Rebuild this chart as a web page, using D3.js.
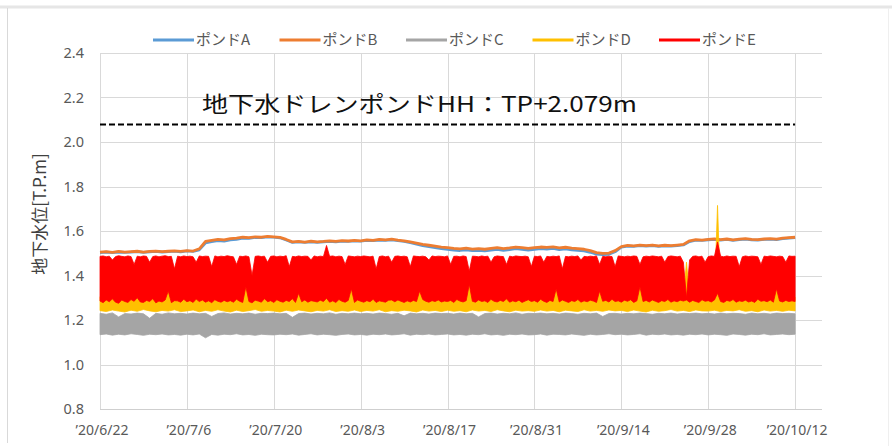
<!DOCTYPE html>
<html><head><meta charset="utf-8">
<script src="https://cdn.jsdelivr.net/npm/d3@7"></script>
<style>body{margin:0;background:#fff;overflow:hidden}</style>
</head><body><svg id="c" width="892" height="446"></svg>
<script>
// ---------- data ----------
const startDate = [2020, 5, 22];            // '20/6/22
const dailyStepHours = 24;                   // pond A, B, C, D(low): one reading per day
const halfDayStepHours = 12;                 // pond D(high), E: two readings per day
const seriesNames = ["ポンドA", "ポンドB", "ポンドC", "ポンドD", "ポンドE"];
const seriesColors = ["#5B9BD5", "#ED7D31", "#A5A5A5", "#FFC000", "#FF0000"];
const yTicks = [0.8, 1.0, 1.2, 1.4, 1.6, 1.8, 2.0, 2.2, 2.4];
const xTickDates = ["2020-06-22","2020-07-06","2020-07-20","2020-08-03","2020-08-17","2020-08-31","2020-09-14","2020-09-28","2020-10-12"];
const xTickLabels = ["’20/6/22","’20/7/6","’20/7/20","’20/8/3","’20/8/17","’20/8/31","’20/9/14","’20/9/28","’20/10/12"];
const hhLevel = 2.079;
const hhLabel = "地下水ドレンポンドHH：TP+2.079m";
const yTitle = "地下水位[T.P.m]";

const pondA = [
1.503,1.505,1.503,1.505,1.504,1.505,1.507,1.504,1.506,1.508,1.505,1.507,1.509,1.506,
1.51,1.508,1.515,1.546,1.552,1.556,1.554,1.56,1.562,1.567,1.567,1.571,1.57,1.573,
1.572,1.569,1.559,1.548,1.551,1.548,1.551,1.549,1.551,1.553,1.551,1.554,1.553,1.555,
1.554,1.557,1.556,1.559,1.558,1.56,1.556,1.553,1.547,1.541,1.534,1.529,1.525,1.52,
1.517,1.514,1.512,1.515,1.511,1.513,1.51,1.514,1.517,1.513,1.516,1.52,1.517,1.514,
1.517,1.52,1.518,1.521,1.516,1.519,1.515,1.513,1.51,1.504,1.496,1.493,1.495,1.506,
1.527,1.532,1.531,1.534,1.532,1.534,1.531,1.533,1.532,1.534,1.537,1.552,1.558,1.557,
1.56,1.562,1.559,1.562,1.558,1.561,1.563,1.56,1.559,1.562,1.563,1.561,1.565,1.568,
1.57];
const pondB = [
1.505,1.507,1.504,1.508,1.505,1.507,1.509,1.505,1.508,1.51,1.507,1.509,1.511,1.508,
1.512,1.51,1.52,1.553,1.558,1.562,1.56,1.566,1.568,1.572,1.57,1.574,1.572,1.576,
1.574,1.571,1.562,1.551,1.553,1.55,1.554,1.551,1.553,1.556,1.553,1.557,1.555,1.558,
1.556,1.56,1.558,1.562,1.56,1.563,1.559,1.556,1.551,1.546,1.54,1.536,1.532,1.528,
1.525,1.522,1.52,1.523,1.519,1.521,1.518,1.522,1.525,1.521,1.524,1.528,1.525,1.522,
1.525,1.528,1.526,1.529,1.524,1.527,1.523,1.521,1.518,1.512,1.503,1.499,1.501,1.512,
1.53,1.535,1.533,1.537,1.534,1.537,1.533,1.536,1.534,1.537,1.54,1.556,1.561,1.559,
1.562,1.565,1.561,1.564,1.56,1.563,1.566,1.562,1.561,1.564,1.566,1.563,1.568,1.57,
1.572];
const pondCHigh = [
1.23,1.226,1.232,1.214,1.229,1.227,1.231,1.228,1.208,1.23,1.226,1.232,1.228,1.23,
1.227,1.231,1.228,1.23,1.216,1.229,1.232,1.227,1.23,1.228,1.231,1.226,1.23,1.229,
1.231,1.228,1.23,1.212,1.229,1.231,1.227,1.23,1.228,1.232,1.226,1.23,1.228,1.231,
1.228,1.23,1.227,1.231,1.229,1.226,1.23,1.219,1.231,1.228,1.23,1.227,1.231,1.229,
1.23,1.227,1.231,1.228,1.23,1.214,1.229,1.231,1.227,1.23,1.228,1.232,1.226,1.23,
1.229,1.231,1.228,1.23,1.227,1.231,1.229,1.226,1.23,1.228,1.231,1.216,1.229,1.23,
1.227,1.23,1.228,1.231,1.229,1.226,1.23,1.228,1.231,1.227,1.23,1.229,1.231,1.228,
1.23,1.227,1.231,1.228,1.23,1.229,1.226,1.231,1.228,1.23,1.227,1.231,1.229,1.23,
1.228];
const pondCLow = [
1.134,1.137,1.132,1.136,1.133,1.138,1.135,1.131,1.136,1.134,1.137,1.133,1.135,1.132,
1.136,1.133,1.137,1.12,1.135,1.132,1.136,1.134,1.138,1.133,1.135,1.131,1.136,1.134,
1.133,1.136,1.134,1.137,1.132,1.135,1.138,1.133,1.136,1.134,1.131,1.135,1.137,1.133,
1.135,1.132,1.136,1.134,1.137,1.133,1.135,1.138,1.132,1.136,1.134,1.137,1.133,1.135,
1.137,1.133,1.135,1.132,1.136,1.134,1.138,1.133,1.135,1.131,1.136,1.134,1.137,1.133,
1.134,1.137,1.132,1.136,1.135,1.133,1.137,1.134,1.131,1.136,1.133,1.135,1.138,1.134,
1.136,1.133,1.135,1.138,1.132,1.136,1.134,1.137,1.133,1.135,1.132,1.136,1.134,1.137,
1.133,1.136,1.134,1.131,1.137,1.135,1.132,1.136,1.134,1.138,1.133,1.135,1.137,1.134,
1.136];
const pondDLow = [
1.242,1.238,1.245,1.24,1.236,1.244,1.239,1.247,1.241,1.237,1.243,1.24,1.246,1.238,
1.241,1.245,1.237,1.243,1.239,1.246,1.24,1.236,1.244,1.238,1.242,1.247,1.239,1.243,
1.24,1.236,1.244,1.239,1.245,1.241,1.237,1.243,1.24,1.246,1.238,1.242,1.239,1.245,
1.238,1.243,1.24,1.246,1.237,1.242,1.239,1.244,1.241,1.236,1.245,1.24,1.243,1.238,
1.244,1.239,1.242,1.237,1.245,1.24,1.243,1.238,1.246,1.241,1.237,1.244,1.24,1.242,
1.239,1.245,1.24,1.243,1.237,1.244,1.241,1.238,1.246,1.24,1.243,1.239,1.245,1.241,
1.243,1.238,1.245,1.24,1.236,1.244,1.239,1.242,1.247,1.24,1.243,1.238,1.245,1.241,
1.24,1.244,1.238,1.243,1.241,1.246,1.239,1.242,1.237,1.245,1.24,1.243,1.239,1.244,
1.241];
// half-day readings
const pondDHigh = [
1.305,1.3,1.31,1.302,1.312,1.3,1.298,1.306,1.303,1.3,1.31,1.304,1.315,1.302,1.3,1.306,1.303,1.312,1.298,1.305,1.302,1.31,1.35,1.3,1.307,1.304,1.3,1.31,
1.302,1.307,1.3,1.313,1.303,1.308,1.3,1.306,1.3,1.31,1.304,1.3,1.308,1.302,1.307,1.3,1.312,1.304,1.3,1.38,1.303,1.41,1.308,1.305,1.3,1.314,1.302,1.307,
1.3,1.31,1.304,1.3,1.307,1.303,1.316,1.3,1.34,1.302,1.31,1.3,1.307,1.304,1.301,1.308,1.303,1.318,1.3,1.306,1.3,1.312,1.304,1.3,1.308,1.36,1.3,1.31,
1.304,1.3,1.307,1.302,1.312,1.3,1.306,1.303,1.3,1.309,1.31,1.302,1.31,1.304,1.3,1.306,1.301,1.308,1.303,1.35,1.312,1.304,1.3,1.307,1.303,1.31,1.301,1.305,
1.303,1.308,1.3,1.312,1.305,1.301,1.307,1.38,1.304,1.3,1.31,1.303,1.306,1.3,1.313,1.304,1.301,1.308,1.303,1.315,1.3,1.306,1.302,1.309,1.3,1.305,1.311,1.303,
1.307,1.3,1.313,1.304,1.3,1.308,1.303,1.36,1.301,1.31,1.304,1.3,1.307,1.303,1.312,1.3,1.306,1.302,1.309,1.305,1.3,1.35,1.304,1.308,1.301,1.313,1.303,1.306,
1.3,1.309,1.304,1.311,1.3,1.306,1.37,1.303,1.308,1.301,1.31,1.304,1.3,1.307,1.303,1.312,1.3,1.306,1.302,1.309,1.305,1.46,1.3,1.308,1.303,1.3,1.311,1.304,
1.307,1.301,1.31,1.715,1.303,1.3,1.308,1.304,1.312,1.3,1.306,1.303,1.309,1.301,1.305,1.3,1.313,1.304,1.307,1.302,1.31,1.3,1.36,1.305,1.301,1.308,1.303,1.306,
1.303];
const pondEHigh = [
1.486,1.488,1.484,1.487,1.47,1.485,1.489,1.486,1.484,1.488,1.485,1.45,1.487,1.484,1.488,1.486,1.46,1.485,1.488,1.484,1.487,1.489,1.485,1.486,1.43,1.487,1.484,1.488,
1.485,1.487,1.484,1.46,1.488,1.485,1.487,1.486,1.44,1.488,1.484,1.487,1.485,1.489,1.486,1.484,1.45,1.487,1.485,1.488,1.484,1.40,1.486,1.488,1.485,1.487,1.46,1.486,
1.488,1.484,1.487,1.485,1.489,1.44,1.486,1.484,1.488,1.485,1.487,1.486,1.47,1.488,1.484,1.487,1.485,1.535,1.486,1.488,1.484,1.487,1.485,1.45,1.488,1.486,1.484,1.487,
1.485,1.488,1.486,1.484,1.487,1.43,1.485,1.488,1.484,1.487,1.46,1.486,1.488,1.485,1.487,1.484,1.44,1.488,1.486,1.485,1.487,1.484,1.47,1.488,1.485,1.487,1.486,1.484,
1.488,1.45,1.486,1.487,1.484,1.488,1.485,1.42,1.487,1.486,1.484,1.488,1.485,1.487,1.46,1.484,1.488,1.486,1.485,1.45,1.487,1.484,1.488,1.486,1.485,1.487,1.484,1.44,
1.487,1.485,1.488,1.46,1.486,1.484,1.487,1.485,1.488,1.43,1.486,1.484,1.487,1.485,1.488,1.47,1.486,1.484,1.487,1.485,1.488,1.45,1.486,1.484,1.487,1.485,1.44,1.488,
1.486,1.484,1.487,1.485,1.488,1.486,1.45,1.484,1.487,1.485,1.488,1.486,1.484,1.487,1.46,1.485,1.488,1.486,1.484,1.487,1.46,1.30,1.47,1.486,1.488,1.484,1.487,1.46,
1.485,1.488,1.486,1.55,1.487,1.484,1.488,1.485,1.487,1.486,1.44,1.484,1.488,1.485,1.487,1.486,1.484,1.45,1.487,1.485,1.488,1.486,1.484,1.487,1.485,1.46,1.488,1.486,
1.487];
const pondELow = [
1.285,1.278,1.29,1.282,1.295,1.28,1.275,1.29,1.283,1.279,1.292,1.284,1.3,1.281,1.279,1.288,1.283,1.296,1.277,1.285,1.281,1.29,1.33,1.278,1.287,1.286,1.28,1.293,
1.282,1.287,1.279,1.294,1.283,1.29,1.28,1.286,1.278,1.291,1.284,1.28,1.288,1.282,1.287,1.28,1.293,1.284,1.279,1.35,1.283,1.277,1.289,1.285,1.28,1.296,1.282,1.287,
1.279,1.291,1.284,1.28,1.288,1.283,1.296,1.279,1.32,1.282,1.29,1.28,1.287,1.284,1.281,1.289,1.283,1.298,1.28,1.286,1.279,1.292,1.284,1.28,1.288,1.34,1.279,1.29,
1.284,1.28,1.287,1.282,1.293,1.279,1.286,1.283,1.28,1.289,1.29,1.282,1.29,1.284,1.279,1.286,1.281,1.288,1.283,1.33,1.292,1.284,1.28,1.287,1.283,1.29,1.281,1.285,
1.283,1.288,1.279,1.292,1.285,1.281,1.287,1.36,1.284,1.28,1.29,1.283,1.286,1.279,1.293,1.284,1.281,1.288,1.283,1.295,1.28,1.286,1.282,1.289,1.279,1.285,1.291,1.283,
1.287,1.28,1.293,1.284,1.279,1.288,1.283,1.34,1.281,1.29,1.284,1.279,1.287,1.283,1.292,1.28,1.286,1.282,1.289,1.285,1.279,1.33,1.284,1.288,1.281,1.293,1.283,1.286,
1.28,1.289,1.284,1.291,1.279,1.286,1.35,1.283,1.288,1.281,1.29,1.284,1.279,1.287,1.283,1.292,1.28,1.286,1.282,1.289,1.285,1.29,1.28,1.288,1.283,1.279,1.291,1.284,
1.287,1.281,1.29,1.32,1.283,1.279,1.288,1.284,1.292,1.28,1.286,1.283,1.289,1.281,1.285,1.279,1.293,1.284,1.287,1.282,1.29,1.28,1.34,1.285,1.281,1.288,1.283,1.286,
1.283];

// ---------- chart ----------
const svg = d3.select("#c");
const W = 892, H = 446;
const plot = {left: 100, right: 822, top: 53, bottom: 409};
const stepDate = (i, hours) => new Date(startDate[0], startDate[1], startDate[2], i * hours);
const parseDate = d3.timeParse("%Y-%m-%d");

const x = d3.scaleTime()
  .domain([stepDate(0, 24), new Date(2020, 9, 16, 8)])
  .range([plot.left, plot.right]);
const y = d3.scaleLinear().domain([0.8, 2.4]).range([plot.bottom, plot.top]);

// outer frame
svg.append("rect").attr("x", 0).attr("y", 5.5).attr("width", W).attr("height", 3).attr("fill", "#e6e6e6");
svg.append("line").attr("x1", 7.5).attr("x2", 7.5).attr("y1", 8).attr("y2", 443).attr("stroke", "#d9d9d9");
svg.append("line").attr("x1", 888.5).attr("x2", 888.5).attr("y1", 8).attr("y2", 446).attr("stroke", "#efefef");

// gridlines
svg.append("g").selectAll("line").data(yTicks.slice(1)).join("line")
  .attr("x1", plot.left).attr("x2", plot.right)
  .attr("y1", d => Math.round(y(d)) + 0.5).attr("y2", d => Math.round(y(d)) + 0.5)
  .attr("stroke", "#d9d9d9").attr("stroke-width", 1);
svg.append("g").selectAll("line").data(xTickDates).join("line")
  .attr("x1", d => Math.round(x(parseDate(d))) + 0.5).attr("x2", d => Math.round(x(parseDate(d))) + 0.5)
  .attr("y1", plot.top).attr("y2", plot.bottom)
  .attr("stroke", "#d9d9d9").attr("stroke-width", 1);
svg.append("line").attr("x1", plot.left).attr("x2", plot.right)
  .attr("y1", Math.round(y(0.8)) + 0.5).attr("y2", Math.round(y(0.8)) + 0.5)
  .attr("stroke", "#cfcfcf");

// axis labels
const tickFont = "'Noto Sans', 'DejaVu Sans', sans-serif";
svg.append("g").selectAll("text").data(yTicks).join("text")
  .attr("x", 84).attr("y", d => y(d)).attr("dy", "0.36em")
  .attr("text-anchor", "end").attr("font-family", tickFont).attr("font-size", 14.5)
  .attr("fill", "#595959").text(d => d.toFixed(1));
svg.append("g").selectAll("text").data(xTickDates).join("text")
  .attr("x", d => x(parseDate(d)) + 2).attr("y", 435)
  .attr("text-anchor", "middle").attr("font-family", tickFont).attr("font-size", 14)
  .attr("fill", "#595959").text((d, i) => xTickLabels[i]);

// y title
svg.append("text")
  .attr("transform", "translate(46,214) rotate(-90)")
  .attr("text-anchor", "middle")
  .attr("font-family", "'Noto Sans CJK JP', sans-serif").attr("font-size", 17)
  .attr("fill", "#404040").text(yTitle);

// series
const line = (arr, h) => d3.line().x((v, i) => x(stepDate(i, h))).y(v => y(v))(arr);
const area = (lo, hi, h) => d3.area().x((v, i) => x(stepDate(i, h)))
  .y0((v, i) => y(lo[i])).y1((v, i) => y(hi[i]))(lo);

svg.append("path").attr("d", line(pondA, dailyStepHours)).attr("fill", "none")
  .attr("stroke", seriesColors[0]).attr("stroke-width", 2.6).attr("stroke-linejoin", "round");
svg.append("path").attr("d", line(pondB, dailyStepHours)).attr("fill", "none")
  .attr("stroke", seriesColors[1]).attr("stroke-width", 2.8).attr("stroke-linejoin", "round");
svg.append("path").attr("d", area(pondCLow, pondCHigh, dailyStepHours))
  .attr("fill", seriesColors[2]).attr("stroke", seriesColors[2]).attr("stroke-width", 0.8);
// pond D: lower edge read daily, upper edge read twice a day
const dLowPts = pondDLow.map((v, i) => [x(stepDate(i, dailyStepHours)), y(v)]);
const dHighPts = pondDHigh.map((v, i) => [x(stepDate(i, halfDayStepHours)), y(v)]);
svg.append("path").attr("d", d3.line()(dHighPts.concat(dLowPts.slice().reverse())) + "Z")
  .attr("fill", seriesColors[3]).attr("stroke", seriesColors[3]).attr("stroke-width", 0.8);
svg.append("path").attr("d", area(pondELow, pondEHigh, halfDayStepHours))
  .attr("fill", seriesColors[4]).attr("stroke", seriesColors[4]).attr("stroke-width", 0.8);

// HH level dashed line + label
svg.append("line")
  .attr("x1", x(stepDate(0, 24))).attr("x2", x(stepDate(pondB.length - 1, 24)))
  .attr("y1", y(hhLevel)).attr("y2", y(hhLevel))
  .attr("stroke", "#000").attr("stroke-width", 2).attr("stroke-dasharray", "6,3");
svg.append("text")
  .attr("x", 202).attr("y", 104).attr("dy", "0.36em")
  .attr("font-family", "'Noto Sans CJK JP', sans-serif").attr("font-size", 22)
  .attr("textLength", 435).attr("lengthAdjust", "spacingAndGlyphs")
  .attr("fill", "#111").text(hhLabel);

// legend
const lg = svg.append("g");
seriesNames.forEach((n, i) => {
  const lx = 153 + i * 126.5;
  lg.append("line").attr("x1", lx).attr("x2", lx + 41).attr("y1", 40).attr("y2", 40)
    .attr("stroke", seriesColors[i]).attr("stroke-width", 3);
  lg.append("text").attr("x", lx + 43).attr("y", 40).attr("dy", "0.36em")
    .attr("font-family", "'Noto Sans CJK JP', sans-serif").attr("font-size", 15)
    .attr("fill", "#595959").text(n);
});
</script>
</body></html>
